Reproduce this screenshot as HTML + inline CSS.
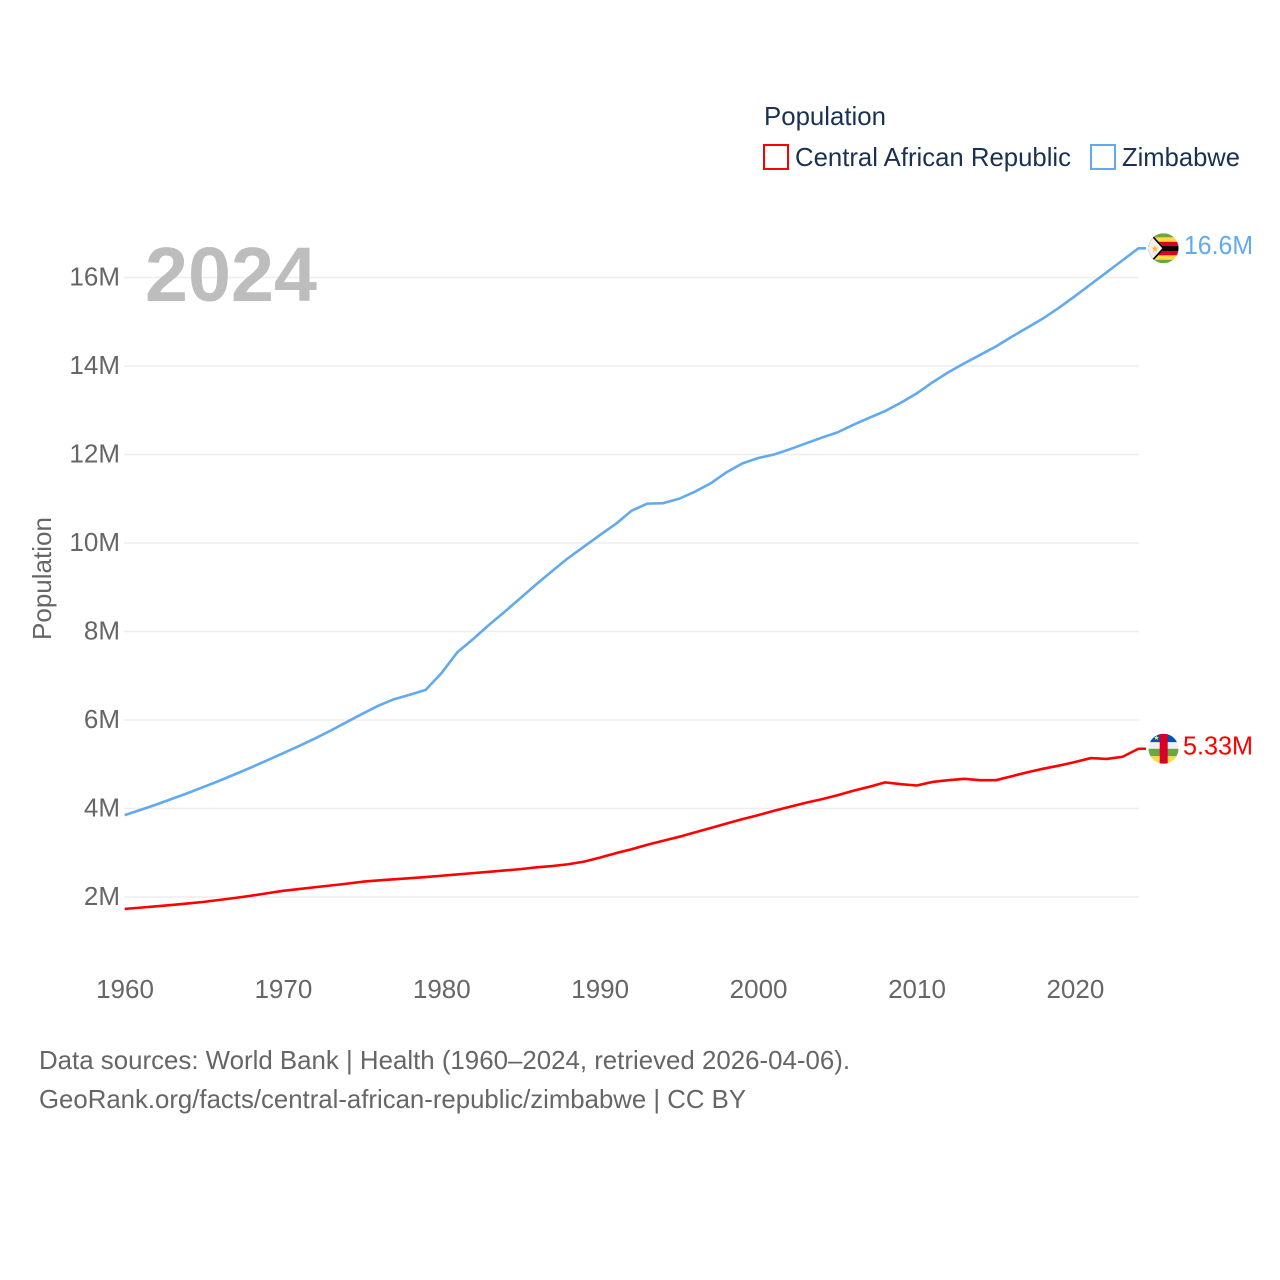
<!DOCTYPE html>
<html lang="en">
<head>
<meta charset="utf-8">
<title>Population: Central African Republic and Zimbabwe</title>
<style>
  html, body { margin: 0; padding: 0; background: #fff; }
  svg { display: block; font-family: "Liberation Sans", sans-serif; }
  .tick { fill: #666; font-size: 26px; }
  .legend { fill: #1b3152; font-size: 26px; }
  .foot { fill: #666; font-size: 26px; }
</style>
</head>
<body>
<svg id="chart" width="1280" height="1280" viewBox="0 0 1280 1280" xmlns="http://www.w3.org/2000/svg">
  <defs>
    <clipPath id="flag-clip"><circle cx="0" cy="0" r="15"></circle></clipPath>
  </defs>
  <rect width="1280" height="1280" fill="#fff"></rect>

  <g id="grid"></g>
  <g id="y-ticks"></g>
  <g id="x-ticks"></g>

  <text x="145" y="301" font-size="77" font-weight="700" fill="#bdbdbd" textLength="172" lengthAdjust="spacingAndGlyphs">2024</text>
  <text transform="translate(51,578.5) rotate(-90)" text-anchor="middle" font-size="26" fill="#666" textLength="123" lengthAdjust="spacingAndGlyphs">Population</text>

  <g>
    <text class="legend" x="764" y="125" textLength="122" lengthAdjust="spacingAndGlyphs">Population</text>
    <g>
      <rect x="764" y="145" width="24" height="24" fill="none" stroke="#ff0000" stroke-width="2"></rect>
      <text class="legend" x="795" y="166" textLength="276" lengthAdjust="spacingAndGlyphs">Central African Republic</text>
    </g>
    <g>
      <rect x="1091" y="145" width="24" height="24" fill="none" stroke="#62a9ee" stroke-width="2"></rect>
      <text class="legend" x="1122" y="166" textLength="118" lengthAdjust="spacingAndGlyphs">Zimbabwe</text>
    </g>
  </g>

  <path id="line-caf" fill="none" stroke="#ff0000" stroke-width="2.6" stroke-linejoin="round"></path>
  <path id="line-zwe" fill="none" stroke="#62a9ee" stroke-width="2.6" stroke-linejoin="round"></path>

  <g id="flag-zwe">
    <g clip-path="url(#flag-clip)">
      <rect x="-15" y="-15" width="30" height="30" fill="#6da544"></rect>
      <rect x="-15" y="-11" width="30" height="22.5" fill="#ffda44"></rect>
      <rect x="-15" y="-6.5" width="30" height="13.5" fill="#d80027"></rect>
      <rect x="-15" y="-2.2" width="30" height="4.8" fill="#000"></rect>
      <polygon points="-12.6,-15 1,0 -12.6,15 -16,15 -16,-15" fill="#000"></polygon>
      <polygon points="-14.8,-15 -1.2,0 -14.8,15 -16,15 -16,-15" fill="#f0f0f0"></polygon>
      <polygon points="-8.5,-3.2 -7.5,-0.7 -5,-0.7 -7,1 -6.3,3.7 -8.5,2.2 -10.7,3.7 -10,1 -12,-0.7 -9.5,-0.7" fill="#f5b93c"></polygon>
    </g>
  </g>

  <g id="flag-caf">
    <g clip-path="url(#flag-clip)">
      <rect x="-15" y="-15" width="30" height="8.5" fill="#0052b4"></rect>
      <rect x="-15" y="-6.5" width="30" height="6.5" fill="#f0f0f0"></rect>
      <rect x="-15" y="0" width="30" height="7.5" fill="#6da544"></rect>
      <rect x="-15" y="7.5" width="30" height="7.5" fill="#ffda44"></rect>
      <rect x="-3.8" y="-15" width="8" height="30" fill="#d80027"></rect>
      <polygon points="-7,-13.5 -6.2,-11.8 -4.4,-11.8 -5.8,-10.6 -5.3,-8.8 -7,-9.9 -8.7,-8.8 -8.2,-10.6 -9.6,-11.8 -7.8,-11.8" fill="#ffda44"></polygon>
    </g>
  </g>

  <text id="label-zwe" x="1184" font-size="26" fill="#62a9ee" textLength="69" lengthAdjust="spacingAndGlyphs">16.6M</text>
  <text id="label-caf" x="1183" font-size="26" fill="#ff0000" textLength="70" lengthAdjust="spacingAndGlyphs">5.33M</text>

  <text class="foot" x="39" y="1069" textLength="811" lengthAdjust="spacingAndGlyphs">Data sources: World Bank | Health (1960–2024, retrieved 2026-04-06).</text>
  <text class="foot" x="39" y="1108" textLength="707" lengthAdjust="spacingAndGlyphs">GeoRank.org/facts/central-african-republic/zimbabwe | CC BY</text>
</svg>

<script>
const startYear = 1960;
const xTickYears = [1960, 1970, 1980, 1990, 2000, 2010, 2020];
const yTickValues = [2, 4, 6, 8, 10, 12, 14, 16];
const yTickLabels = ["2M", "4M", "6M", "8M", "10M", "12M", "14M", "16M"];
const zimbabwe = [
  3.85, 3.97, 4.09, 4.22, 4.35, 4.49, 4.63, 4.78, 4.93, 5.09,
  5.25, 5.41, 5.58, 5.76, 5.95, 6.14, 6.32, 6.47, 6.57, 6.68,
  7.06, 7.53, 7.83, 8.15, 8.45, 8.76, 9.07, 9.37, 9.66, 9.92,
  10.18, 10.43, 10.73, 10.89, 10.90, 11.00, 11.16, 11.35, 11.60, 11.80,
  11.92, 12.00, 12.12, 12.25, 12.38, 12.50, 12.67, 12.83, 12.98, 13.17,
  13.38, 13.63, 13.86, 14.06, 14.25, 14.44, 14.66, 14.87, 15.08, 15.32,
  15.58, 15.85, 16.12, 16.39, 16.66
];
const centralAfricanRepublic = [
  1.73, 1.76, 1.79, 1.82, 1.855, 1.89, 1.935, 1.98, 2.03, 2.085,
  2.14, 2.18, 2.22, 2.26, 2.30, 2.345, 2.375, 2.40, 2.425, 2.45,
  2.48, 2.51, 2.54, 2.57, 2.60, 2.63, 2.67, 2.70, 2.74, 2.80,
  2.89, 2.99, 3.08, 3.18, 3.27, 3.36, 3.46, 3.56, 3.66, 3.76,
  3.85, 3.95, 4.04, 4.13, 4.21, 4.30, 4.40, 4.49, 4.59, 4.55,
  4.52, 4.60, 4.64, 4.67, 4.64, 4.64, 4.73, 4.82, 4.90, 4.97,
  5.05, 5.14, 5.12, 5.17, 5.35
];

const SVG_NS = "http://www.w3.org/2000/svg";
const plotLeft = 124;
const plotRight = 1139;
const connectorEnd = 1146;

function xScale(year) {
  return 124.7 + (year - startYear) * 15.84;
}
function yScale(value) {
  return 985.5 - value * 44.25;
}
function linePath(values) {
  return values.map(function (v, i) {
    return (i ? "L" : "M") + xScale(startYear + i).toFixed(2) + " " + yScale(v).toFixed(2);
  }).join(" ") + " L" + connectorEnd + " " + yScale(values[values.length - 1]).toFixed(2);
}

const grid = document.getElementById("grid");
const yTicks = document.getElementById("y-ticks");
yTickValues.forEach(function (v, i) {
  const gridLine = document.createElementNS(SVG_NS, "line");
  
  
  gridLine.setAttribute("x1", plotLeft);
  gridLine.setAttribute("x2", plotRight);
  gridLine.setAttribute("y1", yScale(v));
  gridLine.setAttribute("y2", yScale(v));
  gridLine.setAttribute("stroke", "#eeeeee");
  gridLine.setAttribute("stroke-width", "1.6");
  grid.appendChild(gridLine);

  const label = document.createElementNS(SVG_NS, "text");
  
  
  label.setAttribute("class", "tick");
  label.setAttribute("x", 120);
  label.setAttribute("y", yScale(v) + 8);
  label.setAttribute("text-anchor", "end");
  label.textContent = yTickLabels[i];
  yTicks.appendChild(label);
});

const xTicks = document.getElementById("x-ticks");
xTickYears.forEach(function (year) {
  const label = document.createElementNS(SVG_NS, "text");
  
  
  label.setAttribute("class", "tick");
  label.setAttribute("x", xScale(year) + 0.3);
  label.setAttribute("y", 998);
  label.setAttribute("text-anchor", "middle");
  label.textContent = year;
  xTicks.appendChild(label);
});

document.getElementById("line-zwe").setAttribute("d", linePath(zimbabwe));
document.getElementById("line-caf").setAttribute("d", linePath(centralAfricanRepublic));

const zweEndY = yScale(zimbabwe[zimbabwe.length - 1]);
const cafEndY = yScale(centralAfricanRepublic[centralAfricanRepublic.length - 1]);
document.getElementById("flag-zwe").setAttribute("transform", "translate(1163.5," + zweEndY + ")");
document.getElementById("flag-caf").setAttribute("transform", "translate(1163.5," + cafEndY + ")");
document.getElementById("label-zwe").setAttribute("y", zweEndY + 5.5);
document.getElementById("label-caf").setAttribute("y", cafEndY + 5.5);
</script>
</body>
</html>
